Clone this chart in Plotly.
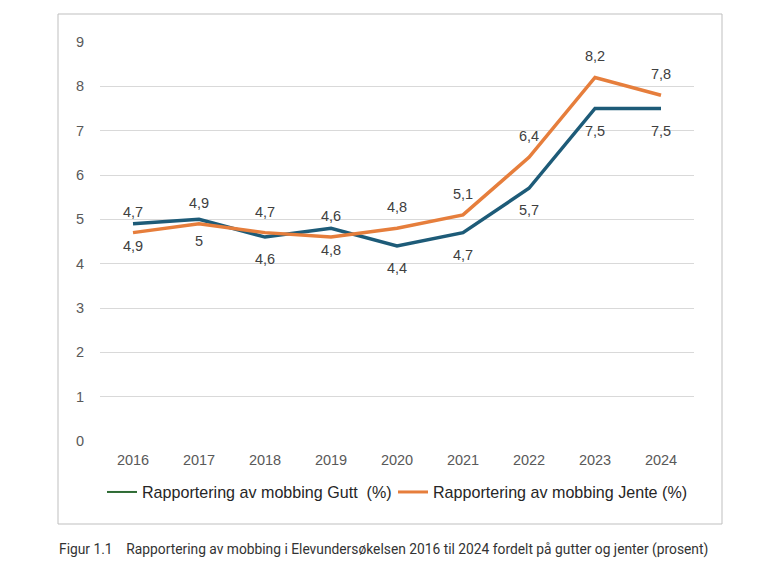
import plotly.graph_objects as go

years = ["2016", "2017", "2018", "2019", "2020", "2021", "2022", "2023", "2024"]
gutt = [4.9, 5.0, 4.6, 4.8, 4.4, 4.7, 5.7, 7.5, 7.5]
jente = [4.7, 4.9, 4.7, 4.6, 4.8, 5.1, 6.4, 8.2, 7.8]
y_ticks = [0, 1, 2, 3, 4, 5, 6, 7, 8, 9]

name_gutt = "Rapportering av mobbing Gutt  (%)"
name_jente = "Rapportering av mobbing Jente (%)"
caption = "Figur 1.1    Rapportering av mobbing i Elevundersøkelsen 2016 til 2024 fordelt på gutter og jenter (prosent)"

def fmt(v):
    return f"{v:g}".replace(".", ",")

TEAL = "#1d5b78"
ORANGE = "#e67e3c"
GREEN = "#2e6b34"
LABEL = "#404040"
FONT = "Liberation Sans, Arial"

OFF = 8  # page body margin
W0, W1 = 100 - OFF, 694 - OFF
H0, H1 = 42 - OFF, 441 - OFF
pw, ph = W1 - W0, H1 - H0

def px(x):
    return (x - OFF - W0) / pw

def py(y):
    return (H1 - (y - OFF)) / ph

fig = go.Figure()
fig.add_trace(go.Scatter(x=years, y=gutt, mode="lines", line=dict(color=TEAL, width=3.5),
                         showlegend=False))
fig.add_trace(go.Scatter(x=years, y=jente, mode="lines", line=dict(color=ORANGE, width=3.5),
                         showlegend=False))
# legend entries
fig.add_trace(go.Scatter(x=[None], y=[None], mode="lines", name=name_gutt,
                         line=dict(color=GREEN, width=2), legend="legend"))
fig.add_trace(go.Scatter(x=[None], y=[None], mode="lines", name=name_jente,
                         line=dict(color=ORANGE, width=3), legend="legend2"))

annotations = []
for i, v in enumerate(gutt):
    annotations.append(dict(x=i, y=v, xref="x", yref="y", text=fmt(v), showarrow=False,
                            yshift=-22, font=dict(size=14.5, color=LABEL, family=FONT)))
for i, v in enumerate(jente):
    annotations.append(dict(x=i, y=v, xref="x", yref="y", text=fmt(v), showarrow=False,
                            yshift=21, font=dict(size=14.5, color=LABEL, family=FONT)))
annotations.append(dict(text=caption, xref="paper", yref="paper", x=px(57), y=py(549),
                        xanchor="left", yanchor="middle", showarrow=False,
                        font=dict(family="Roboto, Liberation Sans", size=13.8, color="#333333")))

leg_common = dict(orientation="h", xanchor="left", yanchor="middle", y=py(492),
                  font=dict(size=16.1, color="#262626"), itemwidth=30,
                  bgcolor="rgba(0,0,0,0)")

fig.update_layout(
    width=780, height=575,
    margin=dict(l=W0, r=780 - W1, t=H0, b=575 - H1),
    paper_bgcolor="white", plot_bgcolor="white",
    font=dict(family=FONT, size=14.5, color="#595959"),
    xaxis=dict(type="category", range=[-0.5, 8.5], showgrid=False, zeroline=False,
               showline=False, ticks="", ticklabelstandoff=8,
               tickfont=dict(size=14.5, color="#595959")),
    yaxis=dict(range=[0, 9], tickvals=y_ticks, showgrid=True, gridcolor="#d9d9d9",
               gridwidth=1, zeroline=False, showline=False, ticks="",
               ticklabelstandoff=15, tickfont=dict(size=14.5, color="#595959")),
    legend=dict(x=px(102), **leg_common),
    legend2=dict(x=px(393), **leg_common),
    shapes=[dict(type="rect", xref="paper", yref="paper",
                 x0=px(58), x1=px(722), y0=py(524), y1=py(14),
                 line=dict(color="#bfbfbf", width=1), fillcolor="rgba(0,0,0,0)", layer="below")],
    annotations=annotations,
)

fig.write_html("out.html")
